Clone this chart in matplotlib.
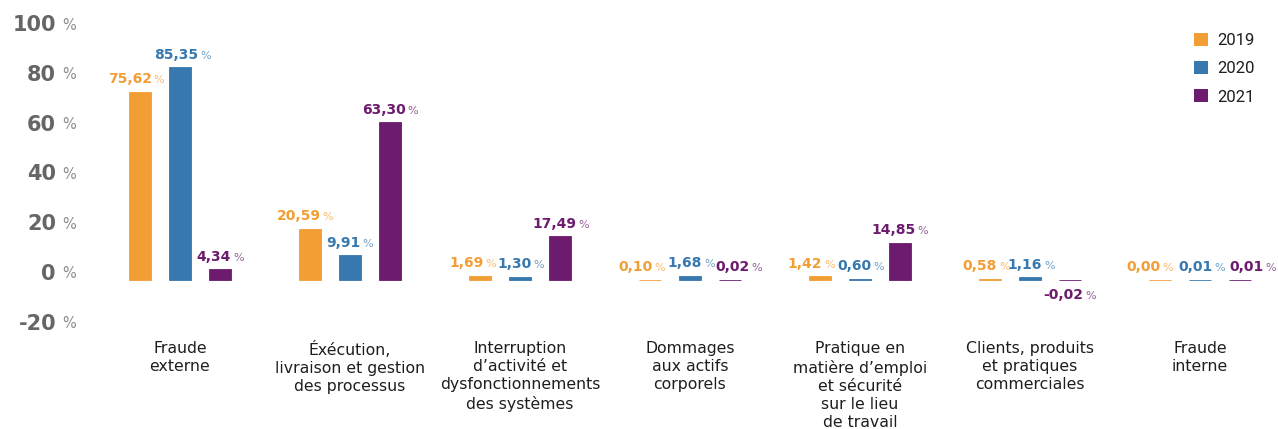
import matplotlib
matplotlib.use("Agg")
import matplotlib.pyplot as plt
import matplotlib.transforms as mtransforms
from matplotlib.offsetbox import TextArea, HPacker, AnnotationBbox
from matplotlib.patches import Patch
import numpy as np

# --- data -------------------------------------------------------------
categories = [
    "Fraude\nexterne",
    "Éxécution,\nlivraison et gestion\ndes processus",
    "Interruption\nd’activité et\ndysfonctionnements\ndes systèmes",
    "Dommages\naux actifs\ncorporels",
    "Pratique en\nmatière d’emploi\net sécurité\nsur le lieu\nde travail",
    "Clients, produits\net pratiques\ncommerciales",
    "Fraude\ninterne",
]
years = ["2019", "2020", "2021"]
values_2019 = [75.62, 20.59, 1.69, 0.10, 1.42, 0.58, 0.00]
values_2020 = [85.35, 9.91, 1.30, 1.68, 0.60, 1.16, 0.01]
values_2021 = [4.34, 63.30, 17.49, 0.02, 14.85, -0.02, 0.01]
y_ticks = [-20, 0, 20, 40, 60, 80, 100]

# --- style ------------------------------------------------------------
colors = ["#F39E35", "#3778AE", "#6D1B6E"]
W, H, DPI = 1278, 429, 100
px_per_unit = 2.49
zero_px = 280            # baseline, pixels from top
left_px = 90

# horizontal nudges (pixels) keeping neighbouring value labels apart
label_nudge = [
    [-4, -5, -7, -8, -9, -4, -10],
    [3, 0, 1, 1, 1, 1, 2],
    [0, 0, 1, 9, 0, 0, 13],
]

fig = plt.figure(figsize=(W / DPI, H / DPI), dpi=DPI)
ax = fig.add_axes([left_px / W, 0, 1 - left_px / W, 1])
ax.set_ylim(-(H - zero_px) / px_per_unit, zero_px / px_per_unit)
group_px = 170
first_px = 180
ax.set_xlim((left_px - first_px) / group_px, (W - first_px) / group_px)
ax.axis("off")

x = np.arange(len(categories))
offset = 40 / group_px
width = 22 / group_px
series = [values_2019, values_2020, values_2021]
pt_per_px = 72 / DPI

for k, (vals, col) in enumerate(zip(series, colors)):
    xs = x + (k - 1) * offset
    ax.bar(xs, vals, width=width, color=col, edgecolor=col,
           linewidth=0.6, label=years[k])
    for i, (xi, v) in enumerate(zip(xs, vals)):
        num = TextArea(f"{v:.2f}".replace(".", ","),
                       textprops=dict(color=col, fontsize=10,
                                      fontweight="bold",
                                      family="DejaVu Sans"))
        pct = TextArea("%", textprops=dict(color=col, alpha=0.7,
                                           fontsize=8,
                                           family="DejaVu Sans"))
        box = HPacker(children=[num, pct], align="baseline", pad=0, sep=1.5)
        dx = label_nudge[k][i] * pt_per_px
        if v >= 0:
            ab = AnnotationBbox(box, (xi, v), xybox=(dx, 4),
                                boxcoords="offset points",
                                box_alignment=(0.5, 0), frameon=False,
                                pad=0)
        else:
            ab = AnnotationBbox(box, (xi, v), xybox=(dx, -6),
                                boxcoords="offset points",
                                box_alignment=(0.5, 1), frameon=False,
                                pad=0)
        ax.add_artist(ab)

# y tick labels
shift = mtransforms.ScaledTranslation(0, 6 / DPI, fig.dpi_scale_trans)
num_tr = mtransforms.blended_transform_factory(
    mtransforms.IdentityTransform(), ax.transData) + shift
for t in y_ticks:
    ax.text(56, t, f"{t}", transform=num_tr,
            ha="right", va="center", fontsize=15, fontweight="bold",
            color="#666666", family="DejaVu Sans")
    ax.text(62, t, "%", transform=num_tr, ha="left", va="center",
            fontsize=10.5, color="#8c8c8c", family="DejaVu Sans")

# category labels
lab_tr = mtransforms.blended_transform_factory(ax.transData,
                                               mtransforms.IdentityTransform())
for xi, c in zip(x, categories):
    ax.text(xi, H - 341, c, transform=lab_tr, ha="center", va="top",
            fontsize=11.3, color="#1e1e1e", linespacing=1.27,
            family="DejaVu Sans")

handles = [Patch(facecolor=c, edgecolor="none") for c in colors]
leg = fig.legend(handles, years, loc="upper left",
                 bbox_to_anchor=(1194 / W, 1 - 33 / H),
                 frameon=False, borderpad=0, borderaxespad=0,
                 handlelength=0.85, handleheight=0.85,
                 handletextpad=0.55, labelspacing=0.76,
                 prop=dict(family="Roboto", size=12))
for t in leg.get_texts():
    t.set_color("#1e1e1e")

fig.savefig("out.png", dpi=DPI)
